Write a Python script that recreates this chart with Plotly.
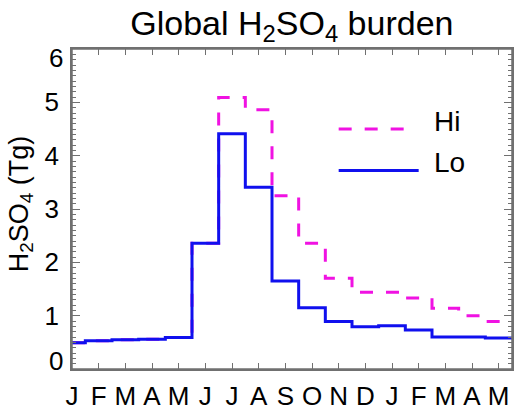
import plotly.graph_objects as go

# ---- data ----
month_labels = ["J", "F", "M", "A", "M", "J", "J", "A", "S", "O", "N", "D",
                "J", "F", "M", "A", "M"]
hi_values = [0.49, 0.53, 0.55, 0.56, 0.59, 2.36, 5.09, 4.86, 3.25, 2.36,
             1.70, 1.44, 1.44, 1.33, 1.14, 1.00, 0.89]
lo_values = [0.49, 0.53, 0.55, 0.56, 0.59, 2.36, 4.41, 3.41, 1.65, 1.15,
             0.89, 0.79, 0.81, 0.73, 0.60, 0.60, 0.58]
y_tick_vals = [0, 1, 2, 3, 4, 5, 6]
y_tick_text = ["0", "1", "2", "3", "4", "5", "6"]

FONT = "Liberation Sans, Arial, sans-serif"
HI_COLOR = "#f012e2"
LO_COLOR = "#1010ee"
AXIS_COLOR = "#707070"

n = len(month_labels)
month_pos = list(range(n))
# step edges: each monthly value centred on its month
x_end = n - 0.5
edges = [0] + [m + 0.5 for m in month_pos[:-1]] + [x_end]


def step_y(vals):
    return list(vals) + [vals[-1]]


fig = go.Figure()
fig.add_trace(go.Scatter(x=edges, y=step_y(hi_values), mode="lines",
                         line=dict(color=HI_COLOR, width=3, dash="13px,13px", shape="hv"),
                         name="Hi", showlegend=False))
fig.add_trace(go.Scatter(x=edges, y=step_y(lo_values), mode="lines",
                         line=dict(color=LO_COLOR, width=3, shape="hv"),
                         name="Lo", showlegend=False))

# plot frame
fig.add_shape(type="rect", xref="paper", yref="paper", x0=0, x1=1, y0=0, y1=1,
              line=dict(color=AXIS_COLOR, width=1.5), layer="above")

# manual legend (in data coordinates)
legend_items = [("Hi", HI_COLOR, "13px,13px", 4.5, 12.55),
                ("Lo", LO_COLOR, "solid", 3.72, 13.0)]
for name, col, dash, yv, x1 in legend_items:
    fig.add_shape(type="line", xref="x", yref="y", x0=10, x1=x1, y0=yv, y1=yv,
                  line=dict(color=col, width=3, dash=dash))
    fig.add_annotation(xref="x", yref="y", x=13.5, y=yv, text=name, showarrow=False,
                       xanchor="left", yanchor="middle", yshift=8,
                       font=dict(family=FONT, size=28, color="black"))

# y tick labels: inner ones by axis, end ones clamped inside the box
ticktext_axis = [t if 0 < v < 6 else "" for v, t in zip(y_tick_vals, y_tick_text)]
for v, t in zip(y_tick_vals, y_tick_text):
    if v == 0 or v == 6:
        fig.add_annotation(xref="paper", yref="y", x=0, y=v, text=t, showarrow=False,
                           xanchor="right", yanchor="middle", xshift=-7,
                           yshift=8 if v == 0 else -9,
                           font=dict(family=FONT, size=26, color="black"))

# y axis title
fig.add_annotation(xref="paper", yref="paper", x=0, y=0.515, xanchor="center", yanchor="middle",
                   xshift=-51, text="H<sub>2</sub>SO<sub>4</sub> (Tg)", textangle=-90,
                   showarrow=False, font=dict(family=FONT, size=27, color="black"))

yminor = dict(tickmode="linear", tick0=0, dtick=0.1, ticks="inside", ticklen=4,
              tickcolor=AXIS_COLOR, tickwidth=1, showgrid=False)

fig.update_layout(
    width=518, height=411,
    margin=dict(l=72, r=6, t=49, b=42),
    paper_bgcolor="white", plot_bgcolor="white",
    title=dict(text="Global H<sub>2</sub>SO<sub>4</sub> burden", x=0.5635, xanchor="center",
               y=0.945, yanchor="middle", yref="container",
               font=dict(family=FONT, size=34, color="black")),
    font=dict(family=FONT, color="black"),
    xaxis=dict(range=[0, x_end], tickmode="array", tickvals=month_pos, ticktext=month_labels,
               ticks="inside", ticklen=6, tickcolor=AXIS_COLOR, tickwidth=1.2,
               showline=True, linecolor=AXIS_COLOR, linewidth=1.5, mirror="allticks",
               showgrid=False, zeroline=False, ticklabelstandoff=3, automargin=False,
               tickfont=dict(family=FONT, size=26, color="black")),
    yaxis=dict(range=[0, 6], tickmode="array", tickvals=y_tick_vals, ticktext=ticktext_axis,
               ticks="inside", ticklen=8, tickcolor=AXIS_COLOR, tickwidth=1.2, minor=yminor,
               showline=True, linecolor=AXIS_COLOR, linewidth=1.5, mirror="allticks",
               showgrid=False, zeroline=False, ticklabelstandoff=6, automargin=False,
               tickfont=dict(family=FONT, size=26, color="black")),
)

fig.write_html("out.html")
